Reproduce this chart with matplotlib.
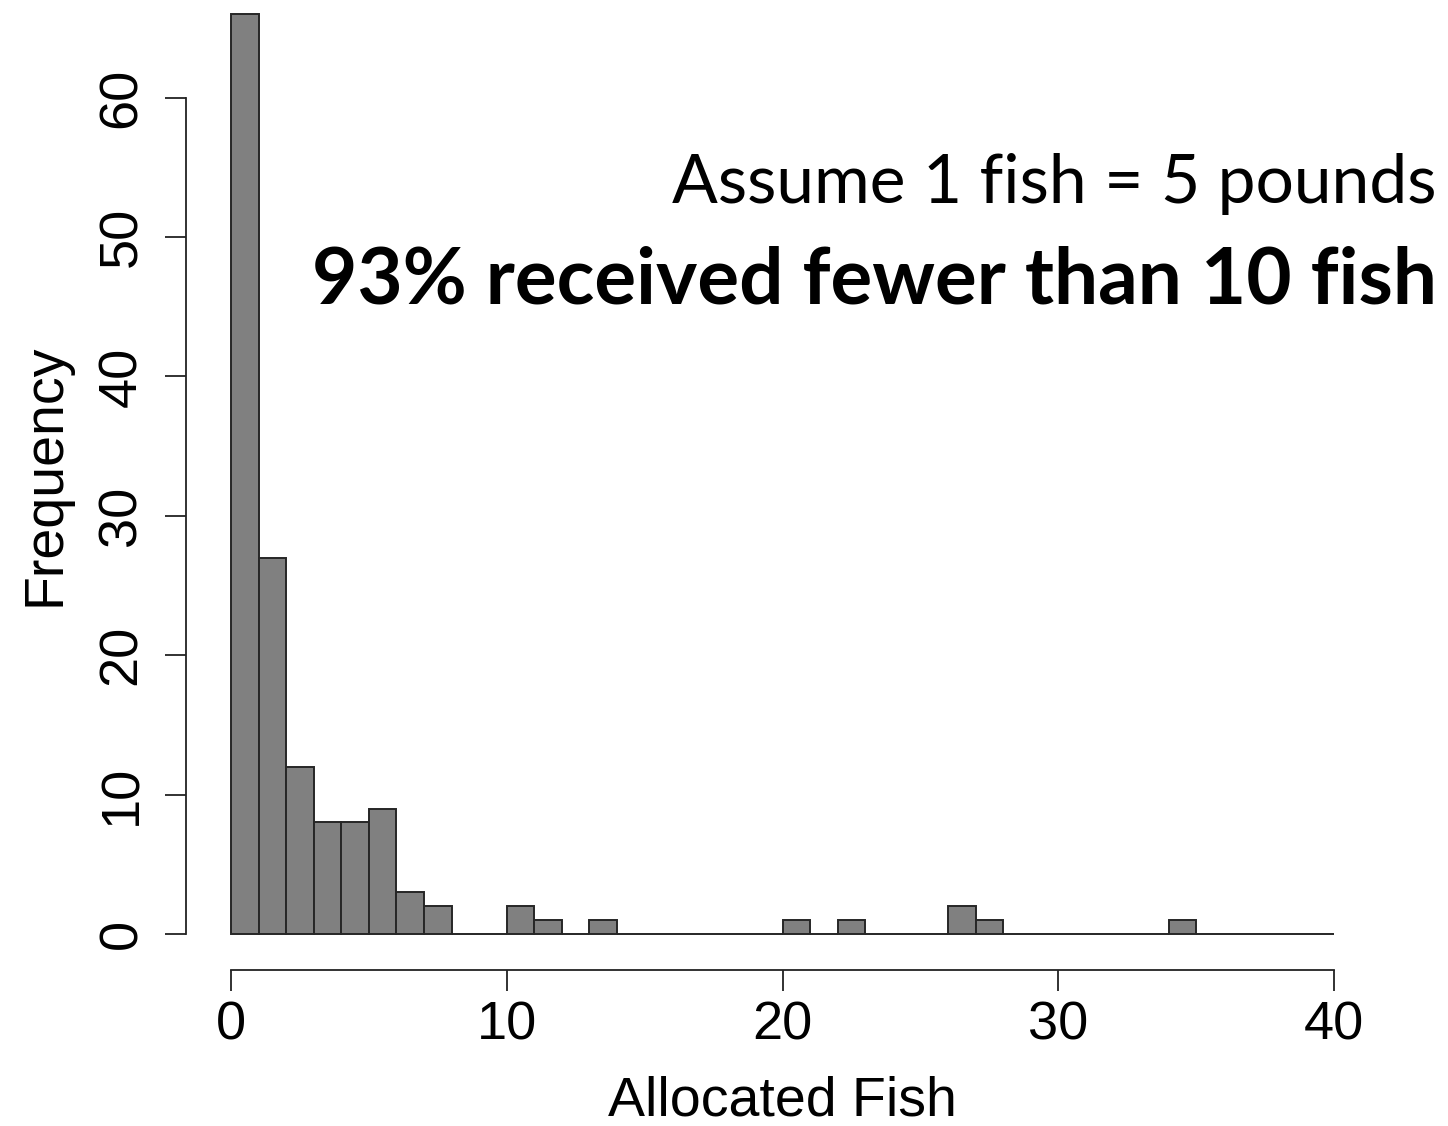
import numpy as np
import matplotlib.pyplot as plt

# histogram counts, bins of width 1 from 0 to 40
bin_left = list(range(0, 40))
counts = [66, 27, 12, 8, 8, 9, 3, 2, 0, 0,
          2, 1, 0, 1, 0, 0, 0, 0, 0, 0,
          1, 0, 1, 0, 0, 0, 2, 1, 0, 0,
          0, 0, 0, 0, 1, 0, 0, 0, 0, 0]
xticks = [0, 10, 20, 30, 40]
yticks = [0, 10, 20, 30, 40, 50, 60]
note = 'Assume 1 fish = 5 pounds'
headline = '93% received fewer than 10 fish'

W, H = 1448, 1126
fig = plt.figure(figsize=(W / 100, H / 100), dpi=100)
ax = fig.add_axes([231 / W, 1 - 934 / H, 1103 / W, 920 / H])

ax.bar(bin_left, counts, width=1, align='edge', color='#808080',
       edgecolor='#262626', linewidth=1.4, clip_on=False)
ax.set_xlim(0, 40)
ax.set_ylim(0, 66)

# R-style detached axes
for s in ['top', 'right']:
    ax.spines[s].set_visible(False)
ax.spines['left'].set_position(('outward', 32.4))
ax.spines['bottom'].set_position(('outward', 25.9))
ax.spines['left'].set_bounds(0, 60)
ax.spines['bottom'].set_bounds(0, 40)
for s in ['left', 'bottom']:
    ax.spines[s].set_linewidth(1.3)
    ax.spines[s].set_color('#222222')

ax.set_xticks(xticks)
ax.set_yticks(yticks)
ax.tick_params(axis='both', length=15, width=1.3, color='#222222', labelsize=39)
ax.tick_params(axis='x', pad=7)
ax.tick_params(axis='y', pad=21)
ax.set_yticklabels([str(v) for v in yticks], family='Liberation Sans',
                   rotation=90, rotation_mode='anchor', ha='center', va='baseline')
ax.set_xticklabels([str(v) for v in xticks], family='Liberation Sans')

ax.set_xlabel('Allocated Fish', fontsize=40, family='Liberation Sans', va='baseline')
ax.xaxis.set_label_coords(782 / W, 1 - 1115 / H, transform=fig.transFigure)
ax.set_ylabel('Frequency', fontsize=40, family='Liberation Sans',
              rotation_mode='anchor', ha='center', va='baseline')
ax.yaxis.set_label_coords(59 / W, 1 - 475 / H, transform=fig.transFigure)

# header texts, sized to match the width they take in the original
t1 = fig.text(1437 / W, 1 - 203 / H, note, ha='right', va='baseline',
              fontsize=40, family='Lato')
t2 = fig.text(1437 / W, 1 - 303 / H, headline, ha='right', va='baseline',
              fontsize=40, family='Lato', fontweight='bold')
r = fig.canvas.get_renderer()
for t, target in [(t1, 764), (t2, 1125)]:
    w = t.get_window_extent(r).width
    t.set_fontsize(40 * target / w)

fig.savefig('out.png', dpi=100)
